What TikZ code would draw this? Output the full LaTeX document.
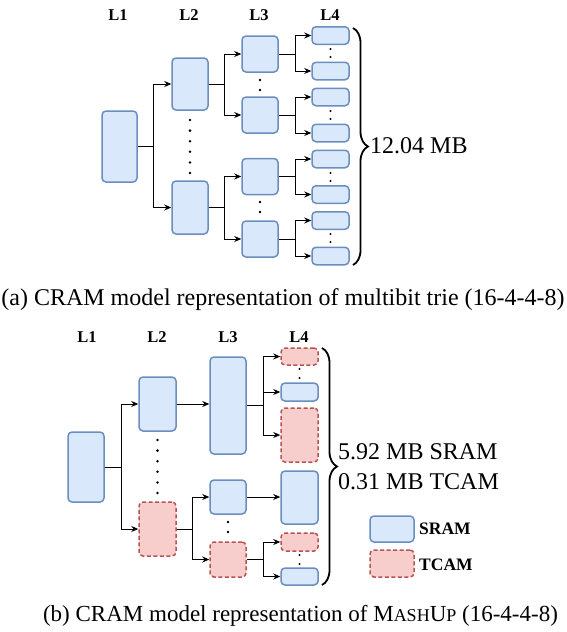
\documentclass[tikz,border=0pt]{standalone}
\usepackage{fontspec}
\setmainfont{Liberation Serif}
\usetikzlibrary{arrows.meta,decorations.pathreplacing}
\definecolor{sfill}{HTML}{DAE8FC}
\definecolor{sdraw}{HTML}{6C8EBF}
\definecolor{tfill}{HTML}{F8CECC}
\definecolor{tdraw}{HTML}{B85450}
\begin{document}
\begin{tikzpicture}[x=1pt,y=-1pt,
  sram/.style={draw=sdraw, fill=sfill, line width=1.5pt, rounded corners=4pt, inner sep=0pt},
  tcam/.style={draw=tdraw, fill=tfill, line width=1.5pt, rounded corners=4pt, inner sep=0pt, dash pattern=on 4pt off 2.5pt},
  sz/.style 2 args={minimum width=#1pt, minimum height=#2pt},
  arr/.style={-{Stealth[length=7pt,width=6pt]}, line width=0.9pt},
  lvl/.style={font=\fontsize{16.5}{16.5}\selectfont\bfseries, inner sep=0pt},
  big/.style={font=\fontsize{24}{24}\selectfont, inner sep=0pt},
  capb/.style={font=\fontsize{23}{23}\selectfont, inner sep=0pt},
  leg/.style={font=\fontsize{17.5}{17.5}\selectfont\bfseries, inner sep=0pt, anchor=west},
  brc/.style={decorate, decoration={brace, amplitude=15pt}, line width=1.8pt},
  dotf/.style={fill=black}
]
\useasboundingbox (0,0) rectangle (567,632);

% ================= (a) =================
\node[lvl] (la1) at (118,15) {L1};
\node[lvl] (la2) at (189,15) {L2};
\node[lvl] (la3) at (259,15) {L3};
\node[lvl] (la4) at (330,15) {L4};

\node[sram, sz={35}{71}] (A1) at (119.5,146.5) {};
\node[sram, sz={36}{52}] (A2a) at (190,84) {};
\node[sram, sz={36}{53}] (A2b) at (190,207.5) {};
\node[sram, sz={36}{36}] (A3a) at (260,54) {};
\node[sram, sz={36}{36}] (A3b) at (260,115) {};
\node[sram, sz={36}{36}] (A3c) at (260,176.5) {};
\node[sram, sz={36}{36}] (A3d) at (260,239) {};
\node[sram, sz={37}{17.5}] (A4a) at (330.5,35.5) {};
\node[sram, sz={37}{17.5}] (A4b) at (330.5,71) {};
\node[sram, sz={37}{17.5}] (A4c) at (330.5,97) {};
\node[sram, sz={37}{17.5}] (A4d) at (330.5,133) {};
\node[sram, sz={37}{17.5}] (A4e) at (330.5,159) {};
\node[sram, sz={37}{17.5}] (A4f) at (330.5,194.5) {};
\node[sram, sz={37}{17.5}] (A4g) at (330.5,220.5) {};
\node[sram, sz={37}{17.5}] (A4h) at (330.5,256) {};

\draw[arr] (A1.east) -- ++(16,0) |- (A2a.west);
\draw[arr] (A1.east) -- ++(16,0) |- (A2b.west);
\draw[arr] (A2a.east) -- ++(16,0) |- (A3a.west);
\draw[arr] (A2a.east) -- ++(16,0) |- (A3b.west);
\draw[arr] (A2b.east) -- ++(16,0) |- (A3c.west);
\draw[arr] (A2b.east) -- ++(16,0) |- (A3d.west);
\draw[arr] (A3a.east) -- ++(17,0) |- (A4a.west);
\draw[arr] (A3a.east) -- ++(17,0) |- (A4b.west);
\draw[arr] (A3b.east) -- ++(17,0) |- (A4c.west);
\draw[arr] (A3b.east) -- ++(17,0) |- (A4d.west);
\draw[arr] (A3c.east) -- ++(17,0) |- (A4e.west);
\draw[arr] (A3c.east) -- ++(17,0) |- (A4f.west);
\draw[arr] (A3d.east) -- ++(17,0) |- (A4g.west);
\draw[arr] (A3d.east) -- ++(17,0) |- (A4h.west);

\foreach \y in {120,130.6,141.2,151.8,162.4,173} \fill[dotf] (190,\y) circle (1.4pt);
\foreach \y in {80,90,202,212} \fill[dotf] (260,\y) circle (1.4pt);
\foreach \y in {49,57,111,119,173,181,234,242} \fill[dotf] (330.5,\y) circle (1.2pt);

\draw[brc] (353,28) -- (353,265);
\node[big, anchor=west] (ta) at (370,146) {12.04 MB};

\node[big, anchor=base] (capa) at (283,305.5) {(a) CRAM model representation of multibit trie (16-4-4-8)};

% ================= (b) =================
\node[lvl] (lb1) at (87,337) {L1};
\node[lvl] (lb2) at (157,337) {L2};
\node[lvl] (lb3) at (228,337) {L3};
\node[lvl] (lb4) at (299,337) {L4};

\node[sram, sz={36}{70}] (B1) at (86,467) {};
\node[sram, sz={37}{54}] (B2a) at (157.5,404) {};
\node[tcam, sz={37}{54}] (B2b) at (157.5,529) {};
\node[sram, sz={36}{97}] (B3a) at (228,405.5) {};
\node[sram, sz={36}{34}] (B3b) at (228,497) {};
\node[tcam, sz={36}{35}] (B3c) at (228,559.5) {};
\node[tcam, sz={37}{17}] (B4a) at (299.5,356.5) {};
\node[sram, sz={37}{18}] (B4b) at (299.5,392) {};
\node[tcam, sz={37}{54}] (B4c) at (299.5,435) {};
\node[sram, sz={37}{53}] (B4d) at (299.5,497.5) {};
\node[tcam, sz={37}{18}] (B4e) at (299.5,542) {};
\node[sram, sz={37}{17}] (B4f) at (299.5,576.5) {};

\draw[arr] (B1.east) -- ++(17,0) |- (B2a.west);
\draw[arr] (B1.east) -- ++(17,0) |- (B2b.west);
\draw[arr] (B2a.east) -- (B3a.west |- B2a.east);
\draw[arr] (B2b.east) -- ++(16,0) |- (B3b.west);
\draw[arr] (B2b.east) -- ++(16,0) |- (B3c.west);
\draw[arr] (B3a.east) -- ++(17,0) |- (B4a.west);
\draw[arr] (B3a.east) -- ++(17,0) |- (B4b.west);
\draw[arr] (B3a.east) -- ++(17,0) |- (B4c.west);
\draw[arr] (B3b.east) -- (B4d.west |- B3b.east);
\draw[arr] (B3c.east) -- ++(17,0) |- (B4e.west);
\draw[arr] (B3c.east) -- ++(17,0) |- (B4f.west);

\foreach \y in {440,450.6,461.2,471.8,482.4,493} \fill[dotf] (157.5,\y) circle (1.4pt);
\foreach \y in {522,532} \fill[dotf] (228,\y) circle (1.4pt);
\foreach \y in {369,378,555,564} \fill[dotf] (299.5,\y) circle (1.2pt);

\draw[brc] (322,348) -- (322,585);
\node[big, anchor=west] (tb1) at (338,452) {5.92 MB SRAM};
\node[big, anchor=west] (tb2) at (338,482) {0.31 MB TCAM};

\node[sram, sz={44}{26}] (legs) at (392,529) {};
\node[tcam, sz={44}{27}] (legt) at (392,563.5) {};
\node[leg] (legsl) at (419,529) {SRAM};
\node[leg] (legtl) at (419,565) {TCAM};

\node[capb, anchor=base] (capb) at (300.5,621.5) {(b) CRAM model representation of M{\fontsize{18}{18}\selectfont ASH}U{\fontsize{18}{18}\selectfont P} (16-4-4-8)};
\end{tikzpicture}
\end{document}
